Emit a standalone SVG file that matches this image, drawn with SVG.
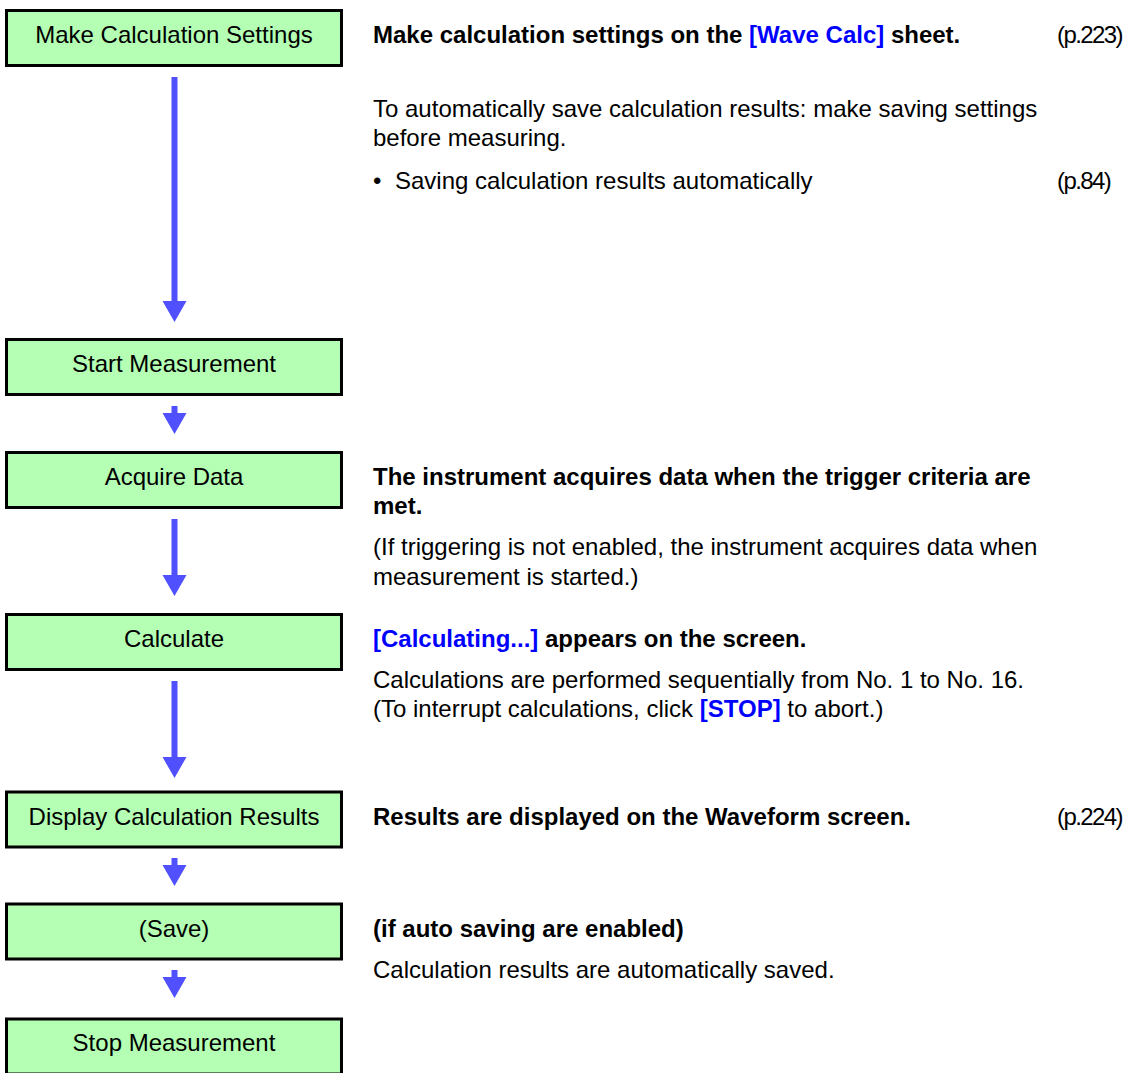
<svg xmlns="http://www.w3.org/2000/svg" width="1127" height="1073" viewBox="0 0 1127 1073">
<style>
.box{fill:#b4ffb4;stroke:#000;stroke-width:3}
.bt{font-family:"Liberation Sans",Arial,sans-serif;font-size:24px;fill:#000;text-anchor:middle}
.t{font-family:"Liberation Sans",Arial,sans-serif;font-size:24px;fill:#000}
.b{font-weight:bold}
.blue{fill:#0000ff;font-weight:bold}
.arr{fill:#5050ff}
.ref{letter-spacing:-1.6px}
</style>
<rect width="1127" height="1073" fill="#fff"/>
<g id="connectors">
<path class="arr" d="M171.5,77 H177.5 V301 H186.5 L174.5,322 L162.5,301 H171.5 Z"/>
<path class="arr" d="M171.5,406 H177.5 V413 H186.5 L174.5,434 L162.5,413 H171.5 Z"/>
<path class="arr" d="M171.5,519 H177.5 V575 H186.5 L174.5,596 L162.5,575 H171.5 Z"/>
<path class="arr" d="M171.5,681 H177.5 V757 H186.5 L174.5,778 L162.5,757 H171.5 Z"/>
<path class="arr" d="M171.5,858 H177.5 V865 H186.5 L174.5,886 L162.5,865 H171.5 Z"/>
<path class="arr" d="M171.5,970 H177.5 V977 H186.5 L174.5,998 L162.5,977 H171.5 Z"/>
</g>
<g id="node-make-settings">
<rect class="box" x="6.5" y="10.5" width="335" height="55"/>
<text class="bt" x="174" y="43">Make Calculation Settings</text>
</g>
<g id="node-start">
<rect class="box" x="6.5" y="339.5" width="335" height="55"/>
<text class="bt" x="174" y="372">Start Measurement</text>
</g>
<g id="node-acquire">
<rect class="box" x="6.5" y="452.5" width="335" height="55"/>
<text class="bt" x="174" y="485">Acquire Data</text>
</g>
<g id="node-calculate">
<rect class="box" x="6.5" y="614.5" width="335" height="55"/>
<text class="bt" x="174" y="647">Calculate</text>
</g>
<g id="node-display">
<rect class="box" x="6.5" y="792" width="335" height="55"/>
<text class="bt" x="174" y="825">Display Calculation Results</text>
</g>
<g id="node-save">
<rect class="box" x="6.5" y="904" width="335" height="55"/>
<text class="bt" x="174" y="937">(Save)</text>
</g>
<g id="node-stop">
<rect class="box" x="6.5" y="1019" width="335" height="55"/>
<text class="bt" x="174" y="1051">Stop Measurement</text>
</g>
<g id="notes">
<text class="t b" x="373" y="43">Make calculation settings on the <tspan class="blue">[Wave Calc]</tspan> sheet.</text>
<text class="t ref" x="1057" y="43">(p.223)</text>
<text class="t" x="373" y="117">To automatically save calculation results: make saving settings</text>
<text class="t" x="373" y="146">before measuring.</text>
<text class="t" x="373" y="189">•</text>
<text class="t" x="395" y="189">Saving calculation results automatically</text>
<text class="t ref" x="1057" y="189">(p.84)</text>
<text class="t b" x="373" y="485">The instrument acquires data when the trigger criteria are</text>
<text class="t b" x="373" y="514">met.</text>
<text class="t" x="373" y="555">(If triggering is not enabled, the instrument acquires data when</text>
<text class="t" x="373" y="585">measurement is started.)</text>
<text class="t b" x="373" y="647"><tspan class="blue">[Calculating...]</tspan> appears on the screen.</text>
<text class="t" x="373" y="688">Calculations are performed sequentially from No. 1 to No. 16.</text>
<text class="t" x="373" y="717">(To interrupt calculations, click <tspan class="blue">[STOP]</tspan> to abort.)</text>
<text class="t b" x="373" y="825">Results are displayed on the Waveform screen.</text>
<text class="t ref" x="1057" y="825">(p.224)</text>
<text class="t b" x="373" y="937">(if auto saving are enabled)</text>
<text class="t" x="373" y="978">Calculation results are automatically saved.</text>
</g>
</svg>
